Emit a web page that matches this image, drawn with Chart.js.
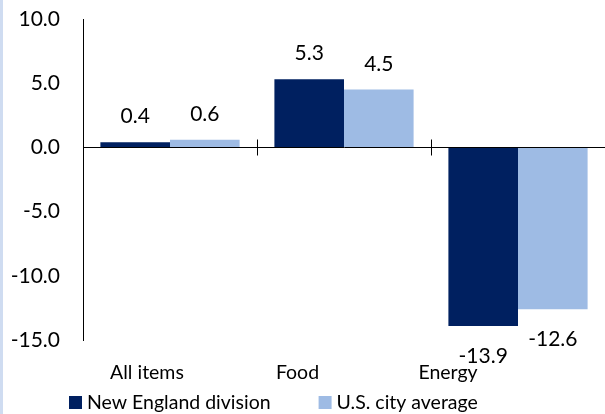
<!DOCTYPE html>
<html>
<head>
<meta charset="utf-8">
<script src="https://cdn.jsdelivr.net/npm/chart.js@4/dist/chart.umd.min.js"></script>
<style>
  html,body{margin:0;padding:0;background:#fff;}
  #wrap{position:relative;width:605px;height:414px;}
  #strip{position:absolute;left:0;top:0;width:3px;height:414px;background:#cfdcf1;}
  canvas{display:block;}
</style>
</head>
<body>
<div id="wrap"><div id="strip"></div><canvas id="chart" width="605" height="414"></canvas></div>
<script>
const categories = ["All items", "Food", "Energy"];
const newEngland = [0.4, 5.3, -13.9];
const usAverage = [0.6, 4.5, -12.6];
const seriesNames = ["New England division", "U.S. city average"];
const yTicks = [-15, -10, -5, 0, 5, 10];

const darkBlue = "#002060";
const lightBlue = "#9ebbe4";
const fontFamily = "Lato, 'Noto Sans', sans-serif";

// value labels above / below each bar
const valueLabels = {
  id: "valueLabels",
  afterDatasetsDraw(chart){
    const ctx = chart.ctx;
    ctx.save();
    ctx.font = "21px " + fontFamily;
    ctx.fillStyle = "#000";
    ctx.textAlign = "center";
    ctx.textBaseline = "alphabetic";
    chart.data.datasets.forEach((ds, di) => {
      chart.getDatasetMeta(di).data.forEach((bar, i) => {
        const v = ds.data[i];
        const y = v >= 0 ? bar.y - 19 : bar.y + 37;
        ctx.fillText(v.toFixed(1), bar.x, y);
      });
    });
    ctx.restore();
  }
};

// small tick marks crossing the zero line between categories
const catTicks = {
  id: "catTicks",
  afterDatasetsDraw(chart){
    const ctx = chart.ctx;
    const x = chart.scales.x, y = chart.scales.y;
    const zero = Math.round(y.getPixelForValue(0)) + 0.5;
    const step = x.width / categories.length;
    ctx.save();
    ctx.strokeStyle = "#000";
    ctx.lineWidth = 1;
    ctx.beginPath();
    for (let i = 0; i <= categories.length; i++){
      const px = Math.round(x.getPixelForValue(i) - step / 2) + 0.5;
      ctx.moveTo(px, zero - 8);
      ctx.lineTo(px, zero + 8);
    }
    ctx.stroke();
    ctx.restore();
  }
};

// legend drawn under the axis labels
const bottomLegend = {
  id: "bottomLegend",
  afterDraw(chart){
    const ctx = chart.ctx;
    ctx.save();
    ctx.font = "19.5px " + fontFamily;
    ctx.textBaseline = "middle";
    ctx.textAlign = "left";
    let x = 69;
    const yc = 402.5;
    chart.data.datasets.forEach(ds => {
      ctx.fillStyle = ds.backgroundColor;
      ctx.fillRect(x, yc - 6.5, 13, 13);
      ctx.fillStyle = "#000";
      ctx.fillText(ds.label, x + 18, yc);
      x += 18 + ctx.measureText(ds.label).width + 48;
    });
    ctx.restore();
  }
};

const chart = new Chart(document.getElementById("chart").getContext("2d"), {
  type: "bar",
  data: {
    labels: categories,
    datasets: [
      { label: seriesNames[0], data: newEngland, backgroundColor: darkBlue },
      { label: seriesNames[1], data: usAverage, backgroundColor: lightBlue }
    ]
  },
  options: {
    responsive: false,
    animation: false,
    layout: { padding: { top: 19, right: 0, bottom: 28, left: 3 } },
    datasets: { bar: { categoryPercentage: 0.8, barPercentage: 1.0 } },
    plugins: { legend: { display: false }, tooltip: { enabled: false } },
    scales: {
      x: {
        display: false
      },
      xl: {
        type: "linear",
        position: "bottom",
        offset: false,
        min: -0.425,
        max: 3.043,
        grid: { display: false },
        border: { display: false },
        afterBuildTicks: s => { s.ticks = categories.map((c, i) => ({ value: i })); },
        afterFit: s => { s.height = 46; s.paddingLeft = 0; s.paddingRight = 0; },
        ticks: {
          autoSkip: false,
          maxRotation: 0,
          padding: 13,
          color: "#000",
          font: { family: fontFamily, size: 19.5 },
          callback: v => categories[v]
        }
      },
      y: {
        min: yTicks[0],
        max: yTicks[yTicks.length - 1],
        afterBuildTicks: s => { s.ticks = yTicks.map(v => ({ value: v })); },
        afterFit: s => { s.width = 80; s.paddingTop = 0; s.paddingBottom = 0; },
        border: { display: true, color: "#000", width: 1 },
        grid: {
          drawTicks: false,
          color: c => c.tick && c.tick.value === 0 ? "#000" : "rgba(0,0,0,0)"
        },
        ticks: {
          padding: 23,
          color: "#000",
          font: { family: fontFamily, size: 21 },
          callback: v => v.toFixed(1)
        }
      }
    }
  },
  plugins: [catTicks, valueLabels, bottomLegend]
});
</script>
</body>
</html>
